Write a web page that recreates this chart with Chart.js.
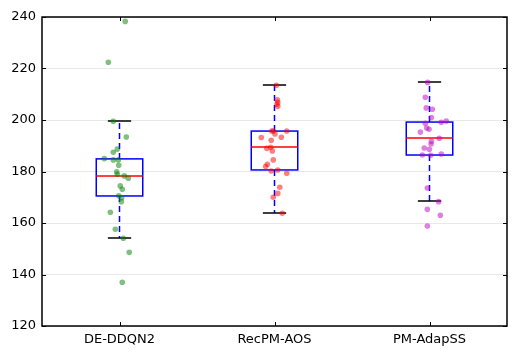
<!DOCTYPE html>
<html>
<head>
<meta charset="utf-8">
<script src="https://cdn.jsdelivr.net/npm/chart.js@4"></script>
<style>
  body { margin:0; background:#fff; }
  #wrap { width:517px; height:356px; }
</style>
</head>
<body>
<div id="wrap"><canvas id="grafico"></canvas></div>
<script>
// ===============================
// DADOS
// ===============================
const categorias = ["DE-DDQN2", "RecPM-AOS", "PM-AdapSS"];
const ticksY = [120, 140, 160, 180, 200, 220, 240];

// estatisticas das caixas (por categoria)
const q1 = [170.5, 180.6, 186.4];
const mediana = [178.3, 189.5, 193.0];
const q3 = [184.9, 195.7, 199.2];
const bigodeMin = [154.2, 163.9, 168.5];
const bigodeMax = [199.6, 213.6, 214.8];

// pontos (valor e posicao x com jitter)
const deY = [238.3, 222.4, 199.5, 193.4, 188.7, 187.5, 185.0, 184.5, 184.5, 182.4, 179.9, 178.9,
             178.3, 177.4, 174.4, 173.1, 170.6, 169.8, 168.3, 164.2, 157.6, 154.1, 148.6, 137.0];
const deX = [1.037, 0.928, 0.960, 1.044, 0.986, 0.960, 0.902, 0.960, 0.992, 0.995, 0.982, 0.986,
             1.031, 1.057, 1.005, 1.018, 0.995, 1.014, 1.012, 0.941, 0.973, 1.025, 1.063, 1.018];

const recY = [213.5, 207.8, 206.9, 206.1, 205.3, 195.7, 195.7, 195.7, 194.6, 193.2, 193.3, 192.1,
              189.0, 189.4, 188.0, 184.5, 182.8, 181.9, 180.2, 180.6, 179.3, 173.9, 171.5, 170.0, 163.8];
const recX = [2.012, 2.018, 2.021, 2.016, 2.021, 1.982, 1.992, 2.079, 2.003, 1.915, 2.044, 1.979,
              1.950, 1.975, 1.986, 1.992, 1.954, 1.943, 1.979, 2.021, 2.079, 2.034, 2.021, 1.992, 2.050];

const pmY = [214.6, 208.8, 204.7, 204.2, 201.0, 199.1, 199.6, 198.7, 196.9, 196.4, 195.3, 192.9,
             191.7, 190.7, 189.1, 188.6, 186.4, 186.3, 186.8, 173.6, 168.3, 165.3, 163.0, 158.8];
const pmX = [2.988, 2.973, 2.979, 3.018, 3.012, 3.076, 3.108, 2.973, 2.982, 2.997, 2.941, 3.063,
             3.012, 3.010, 2.966, 2.999, 2.954, 3.008, 3.076, 2.986, 3.059, 2.986, 3.070, 2.986];

function pontos(xs, ys){
  return ys.map((y, i) => ({ x: xs[i], y: y }));
}

// ===============================
// PLUGIN BOXPLOT
// ===============================
const boxPlugin = {
  id: "boxplot",
  beforeDatasetsDraw(chart){
    const ctx = chart.ctx;
    const sx = chart.scales.x, sy = chart.scales.y;
    const meia = 0.15, cap = 0.075;
    ctx.save();
    ctx.lineWidth = 1.5;
    categorias.forEach((c, i) => {
      const pos = i + 1;
      const xl = sx.getPixelForValue(pos - meia);
      const xr = sx.getPixelForValue(pos + meia);
      const xc = sx.getPixelForValue(pos);
      const cl = sx.getPixelForValue(pos - cap);
      const cr = sx.getPixelForValue(pos + cap);
      const y1 = sy.getPixelForValue(q1[i]);
      const y3 = sy.getPixelForValue(q3[i]);
      const ym = sy.getPixelForValue(mediana[i]);
      const yl = sy.getPixelForValue(bigodeMin[i]);
      const yh = sy.getPixelForValue(bigodeMax[i]);

      // bigodes tracejados
      ctx.strokeStyle = "#0000ff";
      ctx.setLineDash([6, 4]);
      ctx.beginPath();
      ctx.moveTo(xc, y3); ctx.lineTo(xc, yh);
      ctx.moveTo(xc, y1); ctx.lineTo(xc, yl);
      ctx.stroke();
      ctx.setLineDash([]);

      // caixa
      ctx.strokeRect(xl, y3, xr - xl, y1 - y3);

      // mediana
      ctx.strokeStyle = "#ff0000";
      ctx.beginPath();
      ctx.moveTo(xl, ym); ctx.lineTo(xr, ym);
      ctx.stroke();

      // tampas
      ctx.strokeStyle = "#000000";
      ctx.beginPath();
      ctx.moveTo(cl, yh); ctx.lineTo(cr, yh);
      ctx.moveTo(cl, yl); ctx.lineTo(cr, yl);
      ctx.stroke();
    });
    ctx.restore();
  },
  afterDraw(chart){
    const ctx = chart.ctx;
    const a = chart.chartArea;
    const sx = chart.scales.x, sy = chart.scales.y;
    ctx.save();
    ctx.strokeStyle = "#000";
    ctx.lineWidth = 1;
    // ticks para dentro
    ctx.beginPath();
    ticksY.forEach(v => {
      const y = Math.round(sy.getPixelForValue(v)) + 0.5;
      ctx.moveTo(a.left, y); ctx.lineTo(a.left + 4, y);
      ctx.moveTo(a.right, y); ctx.lineTo(a.right - 4, y);
    });
    categorias.forEach((c, i) => {
      const x = Math.round(sx.getPixelForValue(i + 1)) + 0.5;
      ctx.moveTo(x, a.bottom); ctx.lineTo(x, a.bottom - 4);
      ctx.moveTo(x, a.top); ctx.lineTo(x, a.top + 4);
    });
    ctx.stroke();
    // moldura
    ctx.lineWidth = 1.5;
    ctx.strokeRect(a.left, a.top, a.right - a.left, a.bottom - a.top);
    ctx.restore();
  }
};

// ===============================
// GRAFICO
// ===============================
function criarGrafico(){
  const ctx = document.getElementById("grafico");

  new Chart(ctx, {
    type: "scatter",
    data: {
      datasets: [
        { data: pontos(deX, deY), backgroundColor: "rgba(0,128,0,0.5)" },
        { data: pontos(recX, recY), backgroundColor: "rgba(255,0,0,0.5)" },
        { data: pontos(pmX, pmY), backgroundColor: "rgba(191,0,191,0.5)" }
      ]
    },
    options: {
      responsive: true,
      maintainAspectRatio: false,
      animation: false,
      layout: { padding: { top: 17, right: 10, left: 0, bottom: 0 } },
      elements: { point: { radius: 2.8, borderWidth: 0, hoverRadius: 2.8 } },
      plugins: { legend: { display: false }, tooltip: { enabled: false } },
      scales: {
        x: {
          type: "linear",
          min: 0.5, max: 3.5,
          afterBuildTicks: s => { s.ticks = categorias.map((c, i) => ({ value: i + 1 })); },
          afterFit: s => { s.height = 30; },
          ticks: {
            color: "#000",
            padding: 6,
            font: { family: "DejaVu Sans", size: 13 },
            callback: v => categorias[v - 1]
          },
          grid: { display: false, drawTicks: false },
          border: { display: false }
        },
        y: {
          min: 120, max: 240,
          afterBuildTicks: s => { s.ticks = ticksY.map(v => ({ value: v })); },
          afterFit: s => { s.width = 42; },
          ticks: {
            color: "#000",
            padding: 6,
            font: { family: "DejaVu Sans", size: 13 }
          },
          grid: { color: "#e8e8e8", drawTicks: false },
          border: { display: false }
        }
      }
    },
    plugins: [boxPlugin]
  });
}

document.addEventListener("DOMContentLoaded", criarGrafico);
</script>
</body>
</html>
